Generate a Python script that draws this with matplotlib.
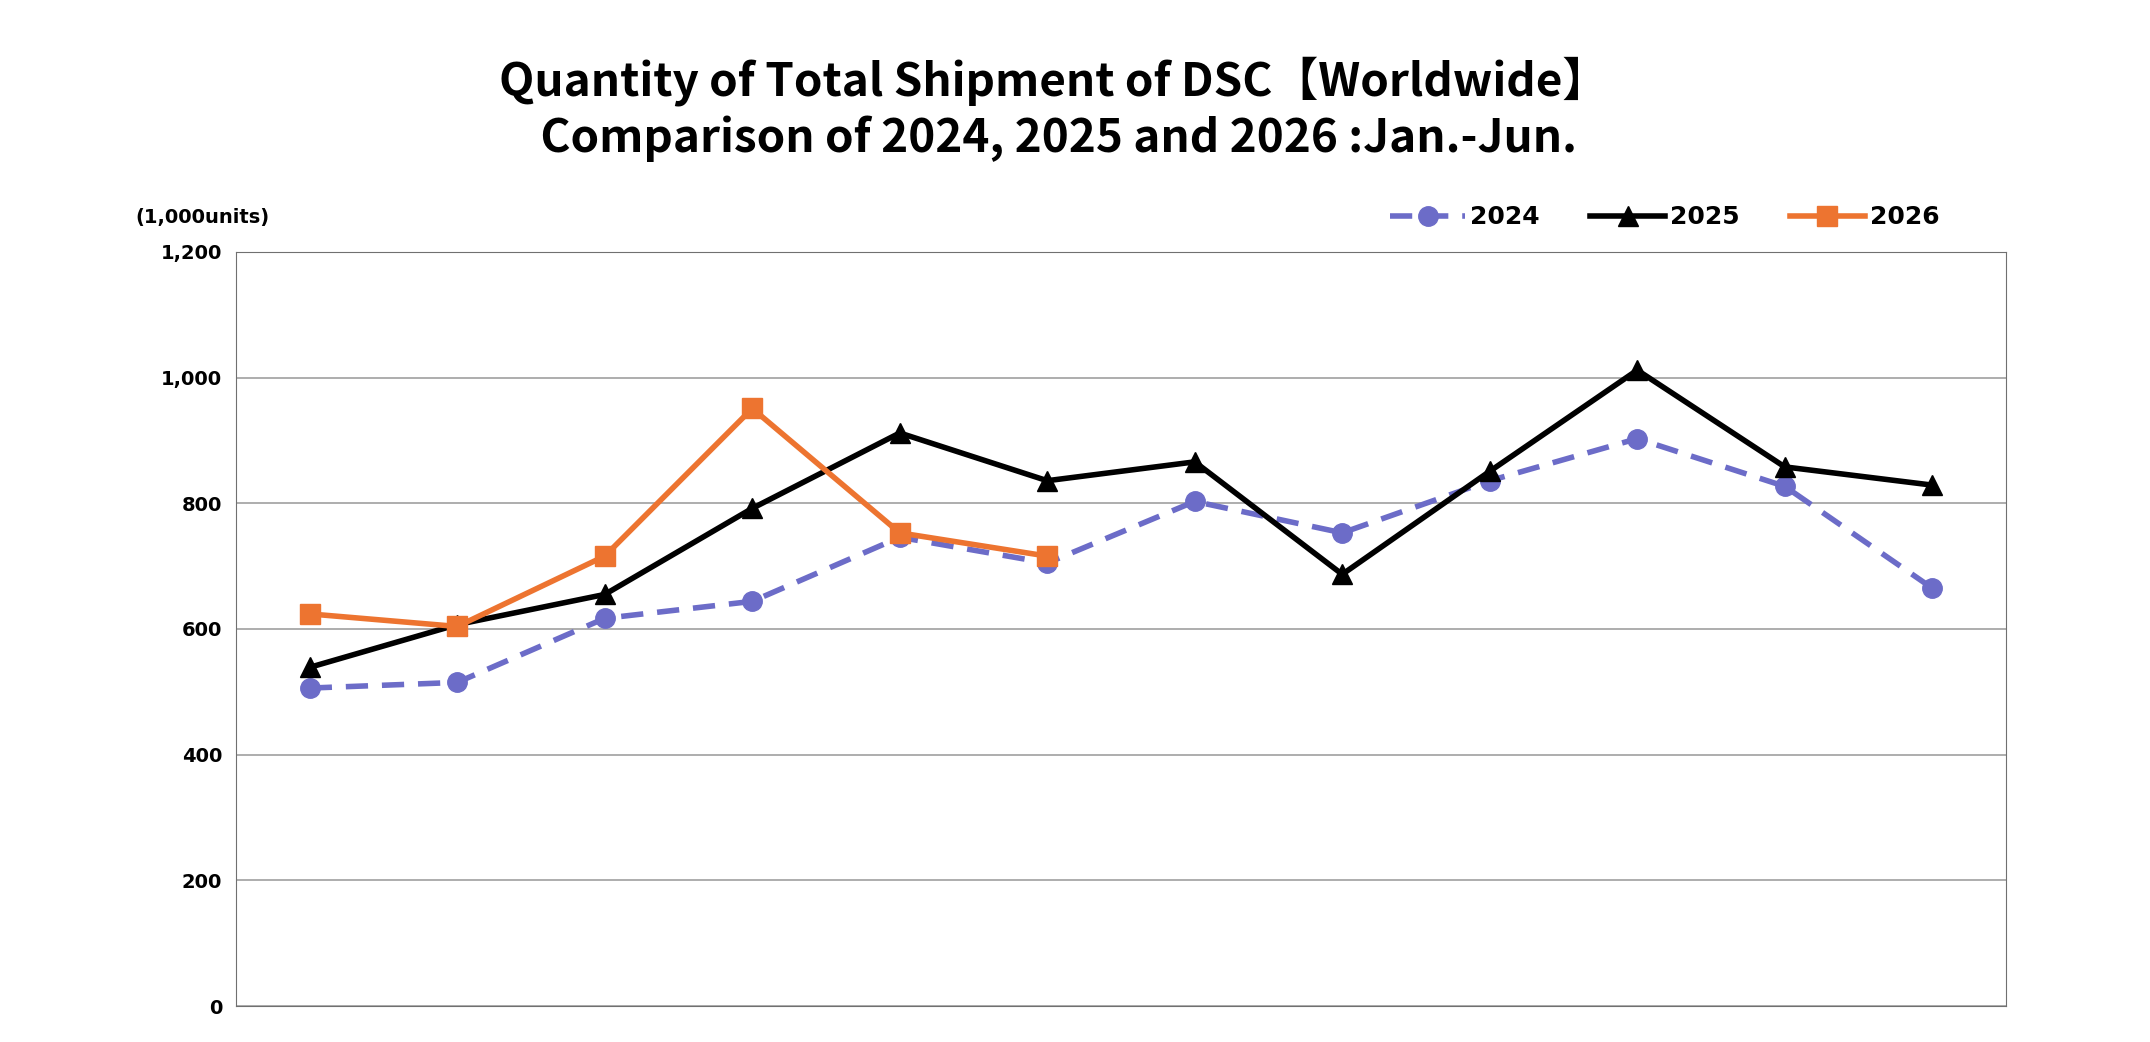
import matplotlib
matplotlib.use("Agg")
import matplotlib.pyplot as plt
import numpy as np

months = list(range(12))
s2024 = [506, 515, 617, 644, 746, 705, 803, 753, 836, 903, 827, 665]
s2025 = [539, 607, 655, 792, 912, 836, 866, 687, 851, 1012, 858, 829]
s2026 = [624, 604, 716, 951, 753, 716]
yticks = [0, 200, 400, 600, 800, 1000, 1200]

fig = plt.figure(figsize=(21.5, 10.42), dpi=100)
ax = fig.add_axes([236/2150, 1-1006/1042, (2006-236)/2150, (1006-252)/1042])
x = np.arange(12) + 0.5
ax.plot(x, s2024, color='#6C6CC8', lw=4, ls=(0, (4, 2.5)), marker='o', ms=14, label='2024')
ax.plot(x, s2025, color='black', lw=4, marker='^', ms=14, label='2025')
ax.plot(x[:len(s2026)], s2026, color='#ED7430', lw=4, marker='s', ms=14, label='2026')
ax.set_xlim(0, 12)
ax.set_ylim(0, 1200)
ax.set_yticks(yticks)
ax.set_yticklabels([f"{v:,}" for v in yticks], fontsize=14, fontweight='bold')
ax.set_xticks([])
ax.yaxis.grid(True, color='#A0A0A0', lw=1.2)
ax.set_axisbelow(True)
for s in ax.spines.values():
    s.set_color('#707070')
ax.tick_params(axis='y', length=0, pad=10)
fig.text(0.49, 0.895, "Quantity of Total Shipment of DSC【Worldwide】\n Comparison of 2024, 2025 and 2026 :Jan.-Jun.",
         ha='center', va='center', fontsize=33, fontweight='bold', linespacing=1.25,
         family=['Noto Sans CJK JP', 'DejaVu Sans'])
fig.text(135/2150, 1-218/1042, "(1,000units)", fontsize=14, fontweight='bold', va='center')
ax.legend(loc='lower right', bbox_to_anchor=(0.975, 1.0), ncol=3, frameon=False,
          prop={'weight': 'bold', 'size': 18}, handlelength=3, columnspacing=2.0, handletextpad=0.2)
fig.savefig("out.png", dpi=100)
